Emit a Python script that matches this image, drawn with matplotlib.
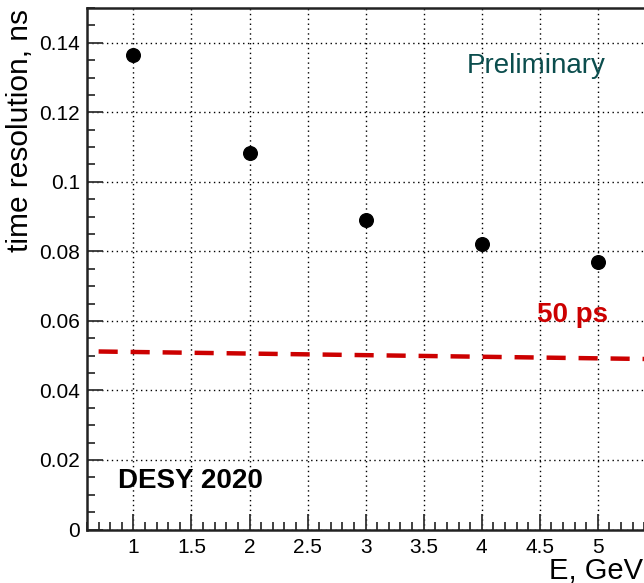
import matplotlib
matplotlib.use("Agg")
import matplotlib.pyplot as plt
from matplotlib.ticker import MultipleLocator

plt.rcParams['font.family'] = ['Liberation Sans', 'DejaVu Sans']

energy = [1, 2, 3, 4, 5]
resolution = [0.1366, 0.1084, 0.0891, 0.0822, 0.0768]
ref_x = [0.70, 5.50]
ref_y = [0.0512, 0.0490]
xticks = [1, 1.5, 2, 2.5, 3, 3.5, 4, 4.5, 5]
xticklabels = ["1", "1.5", "2", "2.5", "3", "3.5", "4", "4.5", "5"]
yticks = [0, 0.02, 0.04, 0.06, 0.08, 0.1, 0.12, 0.14]
yticklabels = ["0", "0.02", "0.04", "0.06", "0.08", "0.1", "0.12", "0.14"]

W, H = 644, 583
fig = plt.figure(figsize=(W / 100, H / 100), dpi=100)
left_px, right_px, top_px, bot_px = 87, 87 + 4.9 * 116.1, 8, 529.5
ax = fig.add_axes([left_px / W, 1 - bot_px / H, (right_px - left_px) / W, (bot_px - top_px) / H])

ax.set_xlim(0.6, 5.5)
ax.set_ylim(0, 0.150)

ax.grid(True, which='major', color='black', linestyle=(0, (1, 2.5)), linewidth=1.0)
ax.set_axisbelow(True)

ax.plot(ref_x, ref_y, color='#cc0000', linewidth=3.2, linestyle=(0, (4.3, 2.9)), zorder=3)
ax.plot(energy, resolution, 'o', color='black', markersize=9.8, zorder=4)

ax.set_xticks(xticks)
ax.set_xticklabels(xticklabels)
ax.set_yticks(yticks)
ax.set_yticklabels(yticklabels)
ax.xaxis.set_minor_locator(MultipleLocator(0.1))
ax.yaxis.set_minor_locator(MultipleLocator(0.005))
ax.tick_params(which='major', direction='in', length=11.5, width=1.3, labelsize=15, pad=5, color='#333333')
ax.tick_params(which='minor', direction='in', length=5.8, width=1.3, color='#333333')
ax.tick_params(axis='x', which='major', pad=6)
ax.tick_params(top=False, right=False)

for s in ['left', 'bottom', 'top']:
    ax.spines[s].set_linewidth(1.8)
    ax.spines[s].set_color('#222222')
ax.spines['right'].set_visible(False)

fig.text(34 / W, 1 - 9 / H, "time resolution, ns", rotation=90, fontsize=21.5,
         ha='right', va='top')
fig.text(549 / W, 1 - 579 / H, "E, GeV", fontsize=21, ha='left', va='baseline')

fig.text(467 / W, 1 - 73 / H, "Preliminary", fontsize=20, color='#0b4d4d',
         ha='left', va='baseline')
fig.text(118 / W, 1 - 488 / H, "DESY 2020", fontsize=20, fontweight='bold',
         color='black', ha='left', va='baseline')
fig.text(537 / W, 1 - 322 / H, "50 ps", fontsize=20, fontweight='bold',
         color='#cc0000', ha='left', va='baseline')

fig.savefig("out.png", dpi=100)
